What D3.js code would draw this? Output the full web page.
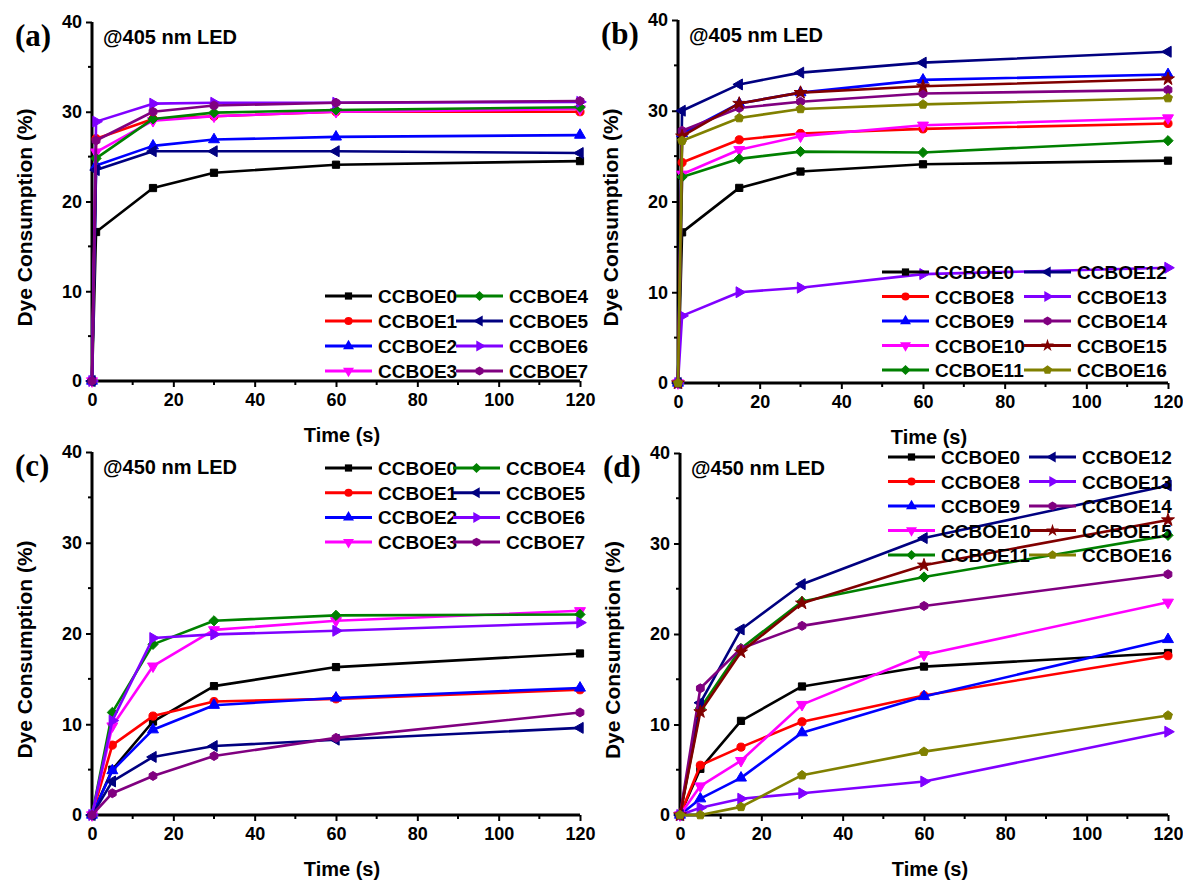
<!DOCTYPE html>
<html>
<head>
<meta charset="utf-8">
<script src="https://cdn.jsdelivr.net/npm/d3@7"></script>
<style>
body{margin:0;background:#fff;}
text{font-family:"Liberation Sans",Arial,sans-serif;font-weight:bold;fill:#000;}
</style>
</head>
<body>
<svg id="fig" width="1183" height="880"></svg>
<script>
// time points (s)
var times405 = [0, 1, 15, 30, 60, 120];
var times450 = [0, 5, 15, 30, 60, 120];

// series names
var namesLeft = ["CCBOE0","CCBOE1","CCBOE2","CCBOE3","CCBOE4","CCBOE5","CCBOE6","CCBOE7"];
var namesRight = ["CCBOE0","CCBOE8","CCBOE9","CCBOE10","CCBOE11","CCBOE12","CCBOE13","CCBOE14","CCBOE15","CCBOE16"];

// dye consumption (%)
var dyeA = [
  [0, 16.6, 21.5, 23.2, 24.1, 24.5],
  [0, 27.0, 29.2, 29.5, 30.0, 30.0],
  [0, 24.0, 26.2, 26.9, 27.2, 27.4],
  [0, 25.5, 29.0, 29.5, 30.0, 30.3],
  [0, 24.8, 29.2, 29.9, 30.2, 30.5],
  [0, 23.5, 25.6, 25.6, 25.6, 25.4],
  [0, 28.9, 30.9, 31.0, 31.0, 31.1],
  [0, 26.8, 30.0, 30.7, 31.0, 31.2]
];
var dyeB = [
  [0, 16.6, 21.5, 23.3, 24.1, 24.5],
  [0, 24.3, 26.8, 27.5, 28.0, 28.6],
  [0, 27.5, 30.8, 32.0, 33.4, 34.0],
  [0, 23.0, 25.7, 27.2, 28.4, 29.2],
  [0, 22.7, 24.7, 25.5, 25.4, 26.7],
  [0, 30.0, 32.9, 34.2, 35.3, 36.5],
  [0, 7.4, 10.0, 10.5, 12.0, 12.7],
  [0, 27.8, 30.3, 31.0, 31.9, 32.3],
  [0, 27.2, 30.8, 32.0, 32.7, 33.5],
  [0, 26.7, 29.2, 30.2, 30.7, 31.4]
];
var dyeC = [
  [0, 5.0, 10.3, 14.2, 16.3, 17.8],
  [0, 7.7, 10.9, 12.5, 12.8, 13.8],
  [0, 4.9, 9.4, 12.1, 12.9, 14.0],
  [0, 9.8, 16.4, 20.4, 21.4, 22.5],
  [0, 11.3, 18.8, 21.4, 22.0, 22.1],
  [0, 3.7, 6.4, 7.6, 8.3, 9.6],
  [0, 10.4, 19.5, 19.9, 20.3, 21.2],
  [0, 2.4, 4.3, 6.5, 8.5, 11.3]
];
var dyeD = [
  [0, 5.1, 10.4, 14.2, 16.4, 17.9],
  [0, 5.5, 7.5, 10.3, 13.2, 17.6],
  [0, 1.8, 4.1, 9.1, 13.1, 19.4],
  [0, 3.2, 6.0, 12.2, 17.7, 23.5],
  [0, 11.8, 18.4, 23.6, 26.3, 30.9],
  [0, 12.4, 20.5, 25.5, 30.6, 36.4],
  [0, 0.8, 1.8, 2.4, 3.7, 9.2],
  [0, 14.0, 18.4, 20.9, 23.1, 26.6],
  [0, 11.4, 18.0, 23.4, 27.6, 32.6],
  [0, 0.0, 0.9, 4.4, 7.0, 11.0]
];

var xTicks = [0, 20, 40, 60, 80, 100, 120];
var yTicks = [0, 10, 20, 30, 40];

// styles
var colorsLeft = ["#000000","#ff0000","#0000ff","#ff00ff","#008000","#000080","#8000ff","#800080"];
var colorsRight = ["#000000","#ff0000","#0000ff","#ff00ff","#008000","#000080","#8000ff","#800080","#800000","#808000"];

// polygon marker as a d3 symbol type
function polygon(n, startDeg){
  return {
    draw: function(ctx, size){
      var a0 = startDeg * Math.PI / 180;
      var r = Math.sqrt(size / (n / 2 * Math.sin(2 * Math.PI / n)));
      for (var i = 0; i < n; i++){
        var a = a0 + i * 2 * Math.PI / n;
        if (i == 0) ctx.moveTo(r * Math.cos(a), r * Math.sin(a));
        else ctx.lineTo(r * Math.cos(a), r * Math.sin(a));
      }
      ctx.closePath();
    }
  };
}
var shapes = [d3.symbolSquare, d3.symbolCircle, polygon(3,-90), polygon(3,90), polygon(4,-90),
              polygon(3,180), polygon(3,0), polygon(6,-90), d3.symbolStar, polygon(5,-90)];
var shapesLeft = shapes.slice(0, 8);
var shapesRight = shapes;

var svg = d3.select("#fig");

function drawPanel(p){
  var x = d3.scaleLinear().domain([0,120]).range([p.x0, p.x1]);
  var y = d3.scaleLinear().domain([0,40]).range([p.y0, p.y1]);
  var g = svg.append("g");

  // axes
  var xAxis = d3.axisBottom(x).tickValues(xTicks).tickSize(6).tickPadding(6);
  var yAxis = d3.axisLeft(y).tickValues(yTicks).tickSize(6).tickPadding(4);
  var gx = g.append("g").attr("transform","translate(0," + p.y0 + ")").call(xAxis);
  var gy = g.append("g").attr("transform","translate(" + p.x0 + ",0)").call(yAxis);
  // minor ticks
  gx.selectAll(".minor").data(d3.range(10,120,20)).enter().append("line")
    .attr("x1", function(d){ return x(d); }).attr("x2", function(d){ return x(d); })
    .attr("y1", 0).attr("y2", 4).attr("stroke","#000").attr("stroke-width",2);
  gy.selectAll(".minor").data(d3.range(5,40,10)).enter().append("line")
    .attr("y1", function(d){ return y(d); }).attr("y2", function(d){ return y(d); })
    .attr("x1", 0).attr("x2", -4).attr("stroke","#000").attr("stroke-width",2);
  [gx, gy].forEach(function(a){
    a.select(".domain").attr("stroke","#000").attr("stroke-width",3);
    a.selectAll(".tick line").attr("stroke","#000").attr("stroke-width",2);
    a.selectAll(".tick text").style("font-size","18px").style("font-family","Liberation Sans, Arial, sans-serif").style("font-weight","bold");
  });
  gx.select(".domain").attr("d","M" + p.x0 + ",0H" + p.x1);
  gy.select(".domain").attr("d","M0," + p.y0 + "V" + p.y1);

  // titles
  g.append("text").attr("x", (p.x0 + p.x1) / 2 + 6).attr("y", p.y0 + 61)
    .attr("text-anchor","middle").style("font-size","20px").text("Time (s)");
  g.append("text").attr("transform","translate(" + (p.x0 - 60) + "," + ((p.y0 + p.y1) / 2 + 16) + ") rotate(-90)")
    .attr("text-anchor","middle").style("font-size","21px").text("Dye Consumption (%)");
  g.append("text").attr("x", p.x0 - 77).attr("y", p.y1 + 24)
    .style("font-family","Liberation Serif, Times New Roman, serif").style("font-size","31px").text(p.tag);
  g.append("text").attr("x", p.x0 + 11).attr("y", p.y1 + 22)
    .style("font-size","20px").text(p.led);

  // series
  var line = d3.line().x(function(d){ return x(d[0]); }).y(function(d){ return y(d[1]); });
  p.values.forEach(function(vals, i){
    var pts = p.times.map(function(t, j){ return [t, vals[j]]; });
    g.append("path").datum(pts).attr("d", line).attr("fill","none")
      .attr("stroke", p.colors[i]).attr("stroke-width",2.6).attr("stroke-linejoin","round");
    g.selectAll(null).data(pts).enter().append("path")
      .attr("transform", function(d){ return "translate(" + x(d[0]) + "," + y(d[1]) + ")"; })
      .attr("d", d3.symbol().type(p.shapes[i]).size(52))
      .attr("fill", p.colors[i]).attr("stroke", p.colors[i]).attr("stroke-width",1);
  });

  // legend, two columns
  var rows = Math.ceil(p.names.length / 2);
  p.names.forEach(function(name, i){
    var col = Math.floor(i / rows), row = i % rows;
    var lx = col == 0 ? p.leg.c1 : p.leg.c2;
    var ly = p.leg.top + row * p.leg.dy;
    var lg = g.append("g");
    lg.append("line").attr("x1", lx).attr("x2", lx + 47).attr("y1", ly).attr("y2", ly)
      .attr("stroke", p.colors[i]).attr("stroke-width",3);
    lg.append("path").attr("transform","translate(" + (lx + 23.5) + "," + ly + ")")
      .attr("d", d3.symbol().type(p.shapes[i]).size(52)).attr("fill", p.colors[i]);
    lg.append("text").attr("x", lx + 53).attr("y", ly + 7).style("font-size","19px").text(name);
  });
}

drawPanel({tag:"(a)", led:"@405 nm LED", x0:92, x1:580, y0:381, y1:22,
  times:times405, values:dyeA, names:namesLeft, colors:colorsLeft, shapes:shapesLeft,
  leg:{c1:325, c2:456, top:296, dy:25}});
drawPanel({tag:"(b)", led:"@405 nm LED", x0:678, x1:1168, y0:383, y1:20,
  times:times405, values:dyeB, names:namesRight, colors:colorsRight, shapes:shapesRight,
  leg:{c1:882, c2:1024, top:272, dy:24.5}});
drawPanel({tag:"(c)", led:"@450 nm LED", x0:92, x1:580, y0:815, y1:452,
  times:times450, values:dyeC, names:namesLeft, colors:colorsLeft, shapes:shapesLeft,
  leg:{c1:325, c2:453, top:468, dy:24.7}});
drawPanel({tag:"(d)", led:"@450 nm LED", x0:680, x1:1168, y0:815, y1:453,
  times:times450, values:dyeD, names:namesRight, colors:colorsRight, shapes:shapesRight,
  leg:{c1:888, c2:1029, top:457, dy:24.5}});
</script>
</body>
</html>
